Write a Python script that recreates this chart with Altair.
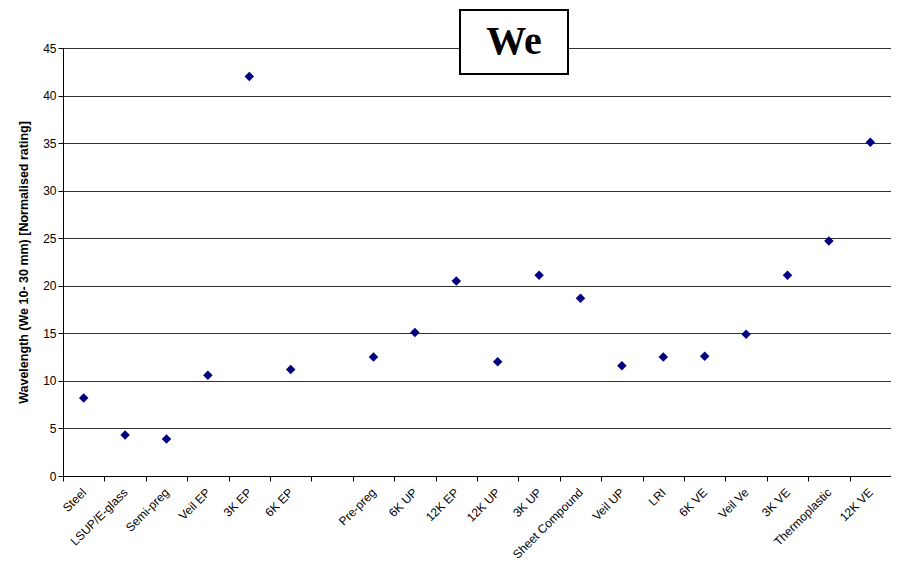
import altair as alt
import pandas as pd

categories = ["Steel", "LSUP/E-glass", "Semi-preg", "Veil EP", "3K EP", "6K EP", " ",
              "Pre-preg", "6K UP", "12K EP", "12K UP", "3K UP", "Sheet Compound",
              "Veil UP", "LRI", "6K VE", "Veil Ve", "3K VE", "Thermoplastic", "12K VE"]
values = [8.2, 4.3, 3.9, 10.6, 42.0, 11.2, None,
          12.5, 15.1, 20.5, 12.0, 21.1, 18.7,
          11.6, 12.5, 12.6, 14.9, 21.1, 24.7, 35.1]
y_ticks = list(range(0, 50, 5))
title_text = "We"
y_title = "Wavelength (We 10- 30 mm) [Normalised rating]"

df = pd.DataFrame({"cat": categories, "val": values}).dropna()

W, H = 828, 428

points = alt.Chart(df).mark_point(shape="diamond", filled=True, size=90,
                                  color="#000080", opacity=1).encode(
    x=alt.X("cat:N", sort=categories,
            scale=alt.Scale(domain=categories, type="band", paddingInner=0, paddingOuter=0),
            axis=alt.Axis(title=None, labelAngle=315, labelAlign="right", labelBaseline="middle",
                          labelFont="Liberation Sans", labelFontSize=12, labelColor="#000",
                          tickBand="extent", tickColor="#000", tickSize=5,
                          domainColor="#000", labelPadding=9, grid=False)),
    y=alt.Y("val:Q", scale=alt.Scale(domain=[0, 45], nice=False),
            axis=alt.Axis(values=y_ticks, title=y_title, titleFont="Liberation Sans",
                          titleFontSize=12.5, titleFontWeight="bold", titleColor="#000",
                          titlePadding=12,
                          labelFont="Liberation Sans", labelFontSize=12, labelColor="#000",
                          tickColor="#000", tickSize=5, domainColor="#000",
                          grid=True, gridColor="#333", gridWidth=1))
)

box = alt.Chart(pd.DataFrame({"t": [title_text]})).mark_rect(
    fill="white", stroke="black", strokeWidth=2
).encode(x=alt.value(397), x2=alt.value(505), y=alt.value(-38), y2=alt.value(26))

txt = alt.Chart(pd.DataFrame({"t": [title_text]})).mark_text(
    font="Liberation Serif", fontSize=40, fontWeight="bold", color="black",
    align="center", baseline="middle"
).encode(text="t:N", x=alt.value(451), y=alt.value(-6))

chart = alt.layer(points, box, txt).properties(
    width=W, height=H,
    autosize=alt.AutoSizeParams(type="none"),
    padding={"left": 55, "top": 40, "right": 0, "bottom": 87}
).configure_view(stroke="#808080", strokeWidth=1)

chart.save("out.html", embed_options={"renderer": "svg", "actions": False})
